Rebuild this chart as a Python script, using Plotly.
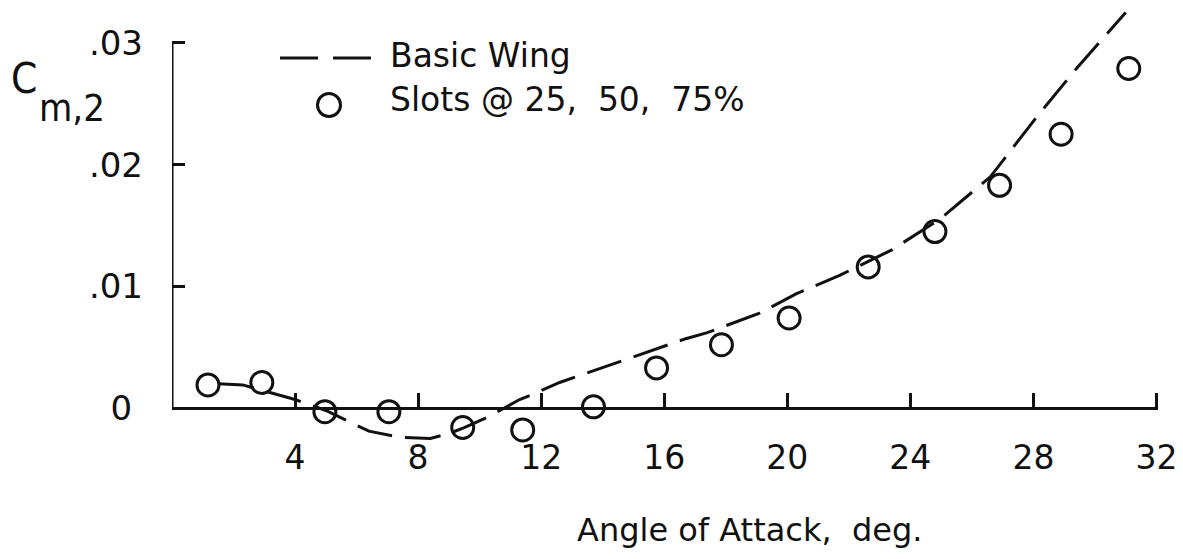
import plotly.graph_objects as go

# Basic wing pitching-moment curve (dashed)
basic_alpha = [1.5, 2.3, 4.0, 5.0, 6.4, 7.4, 8.4, 9.0, 9.5, 10.3, 11.3, 11.7, 12.6,
               13.5, 15.2, 16.7, 17.4, 19.1, 20.3, 21.7, 23.4, 25.0, 26.6, 28.1,
               29.4, 31.0]
basic_cm = [0.0020, 0.0019, 0.0007, -0.0002, -0.0019, -0.0024, -0.0025, -0.0021,
            -0.0016, -0.0007, 0.0007, 0.0011, 0.0021, 0.0029, 0.0044, 0.0057,
            0.0062, 0.0078, 0.0094, 0.0109, 0.0130, 0.0156, 0.0190, 0.0239,
            0.0279, 0.0325]

# Slotted wing measurements (open circles)
slot_alpha = [1.17, 2.92, 4.97, 7.05, 9.45, 11.4, 13.7, 15.75, 17.86, 20.06,
              22.63, 24.8, 26.9, 28.9, 31.1]
slot_cm = [0.0019, 0.0021, -0.0003, -0.0003, -0.0016, -0.0018, 0.0001, 0.0033,
           0.0052, 0.0074, 0.0116, 0.0145, 0.0183, 0.0225, 0.0279]

x_ticks = [4, 8, 12, 16, 20, 24, 28, 32]
x_tick_text = ["4", "8", "12", "16", "20", "24", "28", "32"]
y_ticks = [0, 0.01, 0.02, 0.03]
y_tick_text = ["0\u00a0", ".01", ".02", ".03"]

FONT = "DejaVu Sans, sans-serif"
FONT_NARROW = "DejaVu Sans Condensed, DejaVu Sans, sans-serif"
INK = "#111111"

W, H = 1183, 559
ML, MR, MT, MB = 172, 25, 0, 89
X_RANGE = [0, 32.05]
Y_RANGE = [-0.00509, 0.03353]

plot_w = W - ML - MR
plot_h = H - MT - MB


def px(x):
    return (x - ML) / plot_w


def py(y):
    return (H - MB - y) / plot_h


fig = go.Figure()

fig.add_trace(go.Scatter(
    x=basic_alpha, y=basic_cm, mode="lines", name="Basic Wing",
    line=dict(color=INK, width=3, dash="36px,13px"),
))
fig.add_trace(go.Scatter(
    x=slot_alpha, y=slot_cm, mode="markers", name="Slots @ 25, 50, 75%",
    marker=dict(symbol="circle-open", size=22, color=INK,
                line=dict(color=INK, width=3)),
))

x_axis_pos = (0 - Y_RANGE[0]) / (Y_RANGE[1] - Y_RANGE[0])

fig.update_layout(
    width=W, height=H,
    margin=dict(l=ML, r=MR, t=MT, b=MB),
    paper_bgcolor="white", plot_bgcolor="white",
    showlegend=False,
    font=dict(family=FONT, color=INK, size=34),
    xaxis=dict(
        range=X_RANGE, anchor="free", position=x_axis_pos,
        showline=True, linecolor=INK, linewidth=3,
        ticks="inside", ticklen=14, tickwidth=3, tickcolor=INK,
        tickvals=x_ticks, ticktext=x_tick_text,
        ticklabelstandoff=19,
        tickfont=dict(family=FONT, size=33, color=INK),
        showgrid=False, zeroline=False,
    ),
    yaxis=dict(
        range=Y_RANGE, showline=False,
        ticks="inside", ticklen=13, tickwidth=3, tickcolor=INK,
        tickvals=y_ticks, ticktext=y_tick_text,
        ticklabelstandoff=28,
        tickfont=dict(family=FONT, size=34, color=INK),
        showgrid=False, zeroline=False,
    ),
)

# Vertical axis line from 0 to .03
fig.add_shape(type="line", xref="x", yref="y", x0=0, x1=0, y0=0, y1=0.03,
              line=dict(color=INK, width=3), layer="above")

# Legend key
fig.add_shape(type="line", xref="paper", yref="paper",
              x0=px(280), x1=px(372), y0=py(58), y1=py(58),
              line=dict(color=INK, width=3, dash="38px,15px"))
fig.add_shape(type="circle", xref="paper", yref="paper",
              x0=px(317.5), x1=px(340.5), y0=py(116.5), y1=py(93.5),
              line=dict(color=INK, width=3))
fig.add_annotation(text="Basic Wing", xref="paper", yref="paper",
                   x=px(388), y=py(56), xanchor="left", yanchor="middle",
                   showarrow=False, font=dict(family=FONT, size=33, color=INK))
fig.add_annotation(text="Slots @ 25,\u00a0 50,\u00a0 75%", xref="paper", yref="paper",
                   x=px(388), y=py(100), xanchor="left", yanchor="middle",
                   showarrow=False, font=dict(family=FONT, size=33, color=INK))

# Axis titles
fig.add_annotation(text="C", xref="paper", yref="paper",
                   x=px(24), y=py(78), xanchor="center", yanchor="middle",
                   showarrow=False, font=dict(family=FONT_NARROW, size=42, color=INK))
fig.add_annotation(text="m,2", xref="paper", yref="paper",
                   x=px(37), y=py(108), xanchor="left", yanchor="middle",
                   showarrow=False, font=dict(family=FONT_NARROW, size=38, color=INK))
fig.add_annotation(text="Angle of Attack,\u00a0 deg.", xref="paper", yref="paper",
                   x=px(749), y=py(530), xanchor="center", yanchor="middle",
                   showarrow=False, font=dict(family=FONT, size=32, color=INK))

fig.write_html("out.html")
